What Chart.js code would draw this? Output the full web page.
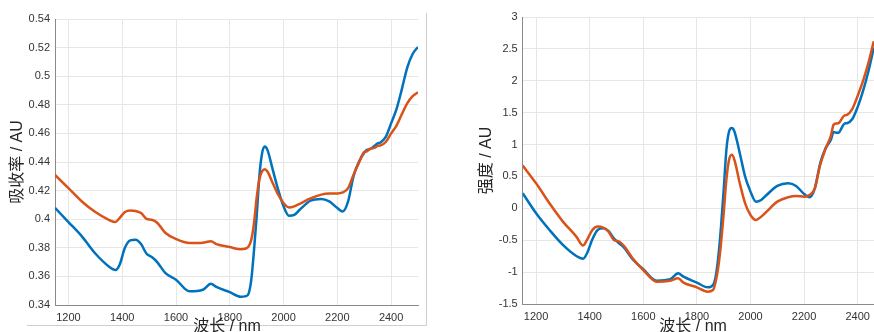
<!DOCTYPE html>
<html>
<head>
<meta charset="utf-8">
<script src="https://cdn.jsdelivr.net/npm/chart.js@4/dist/chart.umd.min.js"></script>
<style>
  html, body { margin: 0; padding: 0; background: #fff; width: 874px; height: 332px; overflow: hidden; position: relative; }
  canvas { position: absolute; top: 0; }
  #c1 { left: 0; }
  #c2 { left: 440px; }
</style>
</head>
<body>
<canvas id="c1" width="440" height="345"></canvas>
<canvas id="c2" width="460" height="345"></canvas>
<script>
// ---- data ----
const wavelengths = [
  1150,1200,1250,1300,1350,1375,1390,1410,1430,1450,
  1470,1490,1510,1530,1560,1600,1650,1700,1730,1750,
  1800,1840,1860,1870,1880,1890,1900,1910,1920,1930,
  1940,1960,1980,2000,2020,2040,2060,2100,2140,2170,
  2200,2220,2240,2260,2280,2300,2310,2320,2330,2340,
  2350,2360,2380,2400,2420,2440,2460,2480,2500
];
// left panel: absorbance
const absorbanceBlue = [
  .408,.398,.388,.376,.367,.3645,.368,.380,.3852,.3856,
  .3826,.376,.3735,.370,.3625,.3577,.3496,.3507,.3549,.3526,
  .349,.3458,.3462,.348,.3577,.378,.402,.430,.446,.4508,
  .4485,.4345,.4206,.409,.4024,.403,.4066,.4129,.4142,.4125,
  .4078,.4054,.4124,.430,.4400,.4465,.4485,.4490,.4500,.4515,
  .4530,.4536,.4575,.467,.477,.491,.506,.5155,.5205
];
const absorbanceOrange = [
  .431,.4217,.4124,.405,.3996,.398,.4008,.405,.4061,.4057,
  .4043,.4003,.3996,.3975,.3905,.3861,.3833,.3836,.3845,.3826,
  .3805,.379,.3795,.381,.3856,.397,.415,.428,.4334,.435,
  .4334,.4252,.4171,.4113,.4082,.409,.4108,.4145,.4172,.418,
  .418,.4187,.4217,.431,.4394,.4470,.4475,.4490,.4495,.4500,
  .4513,.4515,.4540,.4600,.4655,.4735,.4810,.4860,.4888
];
// right panel: intensity (visible up to ~2460 nm)
const intensityBlue = [
  .237,-.077,-.339,-.574,-.747,-.789,-.705,-.485,-.339,-.312,
  -.354,-.469,-.548,-.626,-.799,-.956,-1.134,-1.113,-1.019,-1.071,
  -1.165,-1.239,-1.202,-1.071,-.757,-.286,.289,.917,1.205,1.258,
  1.205,.865,.497,.262,.105,.131,.209,.351,.393,.351,
  .225,.173,.314,.706,.942,1.074,1.197,1.186,1.19,1.26,
  1.326,1.335,1.40,1.59,1.84,2.15,2.52
];
const intensityOrange = [
  .671,.392,.079,-.208,-.443,-.584,-.495,-.339,-.286,-.302,
  -.365,-.495,-.52,-.6,-.783,-.967,-1.15,-1.134,-1.097,-1.165,
  -1.239,-1.307,-1.281,-1.15,-.914,-.548,-.077,.446,.76,.839,
  .76,.393,.079,-.104,-.183,-.13,-.052,.105,.173,.194,
  .183,.209,.314,.68,.93,1.14,1.31,1.33,1.34,1.40,
  1.455,1.466,1.56,1.766,2.0,2.28,2.62
];
const xTicks = [1200,1400,1600,1800,2000,2200,2400];
const yTicksLeft = [0.34,0.36,0.38,0.40,0.42,0.44,0.46,0.48,0.50,0.52,0.54];
const yTicksRight = [-1.5,-1,-0.5,0,0.5,1,1.5,2,2.5,3];
const xTitle = '波长 / nm';
const yTitleLeft = '吸收率 / AU';
const yTitleRight = '强度 / AU';

// ---- styling ----
const BLUE = '#0072BD', ORANGE = '#D95319';
const tickFont = { family: "'Liberation Sans', Arial, sans-serif", size: 11 };
const titleFont = { family: "'Liberation Sans', 'Noto Sans CJK SC', sans-serif", size: 16 };
const fmt = v => String(+Number(v).toFixed(4));

function pts(ys) { return ys.map((y, i) => ({ x: wavelengths[i], y })); }

function makeDatasets(blue, orange) {
  return [
    { data: pts(blue), borderColor: BLUE, borderWidth: 2.5, pointRadius: 0, cubicInterpolationMode: 'monotone', order: 2, fill: false },
    { data: pts(orange), borderColor: ORANGE, borderWidth: 2.5, pointRadius: 0, cubicInterpolationMode: 'monotone', order: 1, fill: false }
  ];
}

// x-axis title drawn slightly left of the plot centre, like the original
const xTitlePlugin = {
  id: 'xTitle',
  afterDraw(chart, args, opts) {
    const ctx = chart.ctx, a = chart.chartArea;
    ctx.save();
    ctx.font = `${titleFont.size}px ${titleFont.family}`;
    ctx.fillStyle = '#262626';
    ctx.textAlign = 'center';
    ctx.textBaseline = 'middle';
    ctx.fillText(xTitle, (a.left + a.right) / 2 + opts.dx, 327);
    ctx.restore();
  }
};

function makeOptions(cfg) {
  return {
    responsive: false,
    animation: false,
    devicePixelRatio: 1,
    layout: { padding: cfg.padding },
    plugins: { legend: { display: false }, tooltip: { enabled: false }, xTitle: { dx: cfg.titleDx } },
    scales: {
      x: {
        type: 'linear', min: 1150, max: 2500,
        afterBuildTicks: s => { s.ticks = xTicks.map(v => ({ value: v })); },
        afterFit: s => { s.height = cfg.xHeight; },
        grid: { color: '#e6e6e6', drawTicks: false },
        border: { display: true, color: '#8a8a8a', width: 1 },
        ticks: { font: tickFont, color: '#333', padding: 6, maxRotation: 0, callback: v => String(v) },
        title: { display: false }
      },
      y: {
        type: 'linear', min: cfg.ymin, max: cfg.ymax,
        afterBuildTicks: s => { s.ticks = cfg.yTicks.map(v => ({ value: v })); },
        afterFit: s => { s.width = cfg.yWidth; },
        grid: { color: '#e6e6e6', drawTicks: false },
        border: { display: true, color: '#8a8a8a', width: 1 },
        ticks: { font: tickFont, color: '#333', padding: 5, callback: fmt },
        title: { display: true, text: cfg.yTitle, font: titleFont, color: '#262626', padding: { top: cfg.yTitlePad, bottom: 0 } }
      }
    }
  };
}

const framePlugin = {
  id: 'frame',
  beforeDraw(chart) {
    const ctx = chart.ctx;
    ctx.save();
    ctx.strokeStyle = '#cfcfcf';
    ctx.lineWidth = 1;
    ctx.beginPath();
    ctx.moveTo(27, 325.5);
    ctx.lineTo(426.5, 325.5);
    ctx.lineTo(426.5, 13);
    ctx.stroke();
    ctx.restore();
  }
};

new Chart(document.getElementById('c1'), {
  type: 'line',
  data: { datasets: makeDatasets(absorbanceBlue, absorbanceOrange) },
  options: makeOptions({
    padding: { left: 0, top: 19, right: 22, bottom: 0 },
    xHeight: 40, yWidth: 55, yTitlePad: 8, titleDx: -9.5,
    ymin: 0.34, ymax: 0.54, yTicks: yTicksLeft, yTitle: yTitleLeft
  }),
  plugins: [framePlugin, xTitlePlugin]
});

new Chart(document.getElementById('c2'), {
  type: 'line',
  data: { datasets: makeDatasets(intensityBlue, intensityOrange) },
  options: makeOptions({
    padding: { left: 0, top: 17, right: 15.5, bottom: 0 },
    xHeight: 41, yWidth: 82.7, yTitlePad: 37, titleDx: -10.5,
    ymin: -1.5, ymax: 3, yTicks: yTicksRight, yTitle: yTitleRight
  }),
  plugins: [xTitlePlugin]
});
</script>
</body>
</html>
